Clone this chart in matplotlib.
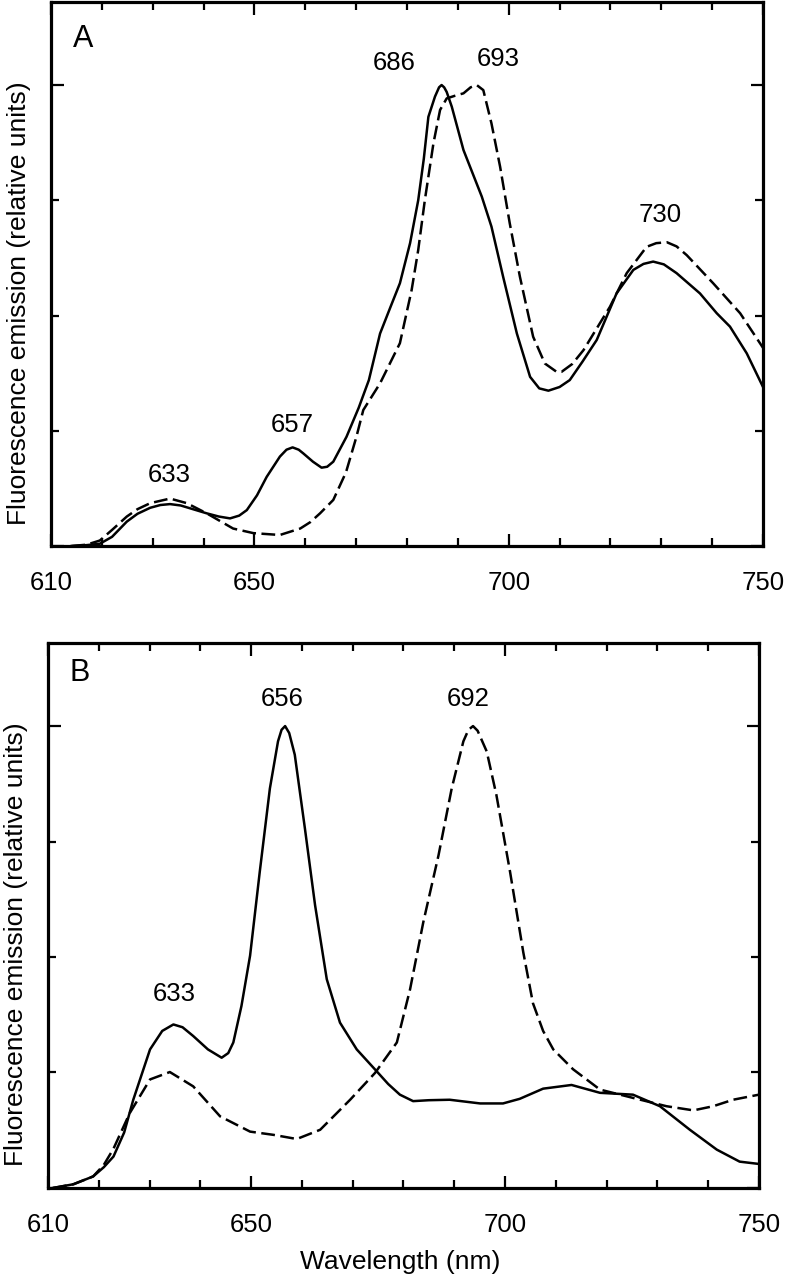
import numpy as np
import matplotlib.pyplot as plt
from matplotlib.ticker import MultipleLocator, FixedLocator

plt.rcParams['font.family'] = ['Liberation Sans', 'DejaVu Sans']

# Panel A, solid trace
wl_a_solid = [614, 617, 619.6, 622, 624.9, 627, 629.5, 631.5, 633.4, 635.5, 637.3, 640.6, 643,
              645.2, 647, 648.5, 650.5, 652.4, 655.0, 656.3, 657.5, 658.7, 659.6, 661.5, 663.2,
              664.3, 665.5, 668.1, 670.5, 672.5, 674.7, 676.8, 678.6, 680.6, 682.2, 683.3,
              684.2, 685.5, 686.3, 686.8, 687.3, 687.8, 688.8, 691.1, 694.7, 696.6, 698.9,
              701.6, 704.2, 706, 707.8, 710, 712.0, 714.5, 717.3, 721.2, 724.5, 726.5, 728.4,
              730.5, 733.0, 737.6, 740.9, 743.5, 746.8, 750]
em_a_solid = [0.0, 0.002, 0.005, 0.02, 0.053, 0.07, 0.083, 0.089, 0.091, 0.088, 0.082, 0.071,
              0.064, 0.06, 0.066, 0.078, 0.11, 0.15, 0.194, 0.209, 0.214, 0.209, 0.201, 0.183,
              0.17, 0.172, 0.183, 0.237, 0.30, 0.36, 0.461, 0.52, 0.57, 0.657, 0.75, 0.84,
              0.931, 0.975, 0.995, 1.0, 0.995, 0.985, 0.953, 0.859, 0.758, 0.693, 0.584,
              0.461, 0.367, 0.342, 0.337, 0.345, 0.36, 0.40, 0.447, 0.548, 0.599, 0.612, 0.617,
              0.611, 0.592, 0.548, 0.505, 0.476, 0.418, 0.345]

# Panel A, dashed trace
wl_a_dash = [614, 617, 619.6, 622, 624.9, 627, 629.5, 633.4, 636.7, 640.6, 645.8, 649.8,
             655.0, 659.0, 661, 662.9, 665.5, 668, 670, 671.4, 674.7, 678.6, 680.9, 682.2,
             683.5, 685.2, 686.5, 687.8, 689.5, 691.1, 692.5, 693.7, 695.0, 696.6, 698.3,
             700.2, 702.2, 704.8, 707.1, 709.4, 710.4, 712.5, 714.7, 719.9, 723.2, 727.1,
             729, 731.1, 733, 735.0, 740.2, 745.5, 750]
em_a_dash = [0.0, 0.003, 0.012, 0.035, 0.064, 0.08, 0.093, 0.103, 0.093, 0.071, 0.038, 0.028,
             0.024, 0.038, 0.052, 0.071, 0.1, 0.16, 0.235, 0.295, 0.353, 0.44, 0.555, 0.642,
             0.75, 0.874, 0.946, 0.971, 0.977, 0.982, 0.995, 1.0, 0.989, 0.917, 0.823,
             0.70, 0.584, 0.454, 0.396, 0.378, 0.378, 0.395, 0.425, 0.519, 0.592, 0.649,
             0.657, 0.659, 0.65, 0.631, 0.57, 0.505, 0.43]

# Panel B, solid trace
wl_b_solid = [611, 615, 618.9, 621, 622.9, 625, 626.8, 630.1, 632.5, 634.7, 636.5, 638.6,
              641.5, 644.2, 645.5, 646.5, 648.1, 649.8, 651.7, 653.7, 655.3, 656.0, 656.7,
              657.5, 658.6, 660.6, 662.6, 664.9, 667.5, 670.8, 674.7, 677, 679.3, 681.9, 685,
              689.1, 695.1, 699.6, 702.9, 707.5, 713.1, 718.7, 725.2, 730.5, 736.4, 741.7,
              746.2, 750]
em_b_solid = [0.0, 0.008, 0.025, 0.045, 0.068, 0.12, 0.191, 0.30, 0.34, 0.354, 0.348, 0.329,
              0.30, 0.282, 0.292, 0.315, 0.394, 0.503, 0.684, 0.865, 0.967, 0.992, 1.0,
              0.985, 0.938, 0.778, 0.612, 0.452, 0.358, 0.30, 0.253, 0.225, 0.202, 0.188, 0.19,
              0.191, 0.183, 0.183, 0.193, 0.215, 0.223, 0.206, 0.202, 0.177, 0.126, 0.083,
              0.057, 0.052]

# Panel B, dashed trace
wl_b_dash = [611, 615, 618.9, 621, 622.9, 626.1, 630.1, 634.0, 638.6, 643.9, 649.8, 654.4,
             659.0, 663.6, 669.5, 674.4, 678.7, 681.3, 683.9, 686.9, 689.5, 691.8, 692.8,
             693.7, 694.6, 696.4, 698.3, 701.0, 703.6, 705.5, 707.5, 709.5, 713.4, 718.7,
             725.2, 731.8, 737.1, 741.0, 744.9, 750]
em_b_dash = [0.0, 0.008, 0.025, 0.05, 0.085, 0.162, 0.235, 0.251, 0.22, 0.155, 0.122, 0.115,
             0.106, 0.126, 0.191, 0.249, 0.315, 0.43, 0.575, 0.72, 0.865, 0.967, 0.992,
             1.0, 0.99, 0.945, 0.851, 0.684, 0.51, 0.40, 0.34, 0.30, 0.257, 0.213,
             0.195, 0.177, 0.168, 0.177, 0.191, 0.202]

# peak labels: text, x, y
peaks_a = [('633', 633.3, 0.139), ('657', 657.5, 0.247), ('686', 677.5, 1.033),
           ('693', 698.0, 1.041), ('730', 729.8, 0.703)]
peaks_b = [('633', 634.8, 0.405), ('656', 656.2, 1.043), ('692', 692.7, 1.043)]

xtick_locs = [610, 650, 700, 750]
xtick_labels = ['610', '650', '700', '750']

fig = plt.figure(figsize=(7.85, 12.8), dpi=100)
ax_a = fig.add_axes([0.0650, 0.5734, 0.907, 0.425])
ax_b = fig.add_axes([0.0611, 0.0719, 0.9057, 0.4258])

dash = (0, (5.5, 2.2))

ax_a.plot(wl_a_solid, em_a_solid, color='black', lw=1.8, solid_joinstyle='round')
ax_a.plot(wl_a_dash, em_a_dash, color='black', lw=1.8, linestyle=dash)
ax_b.plot(wl_b_solid, em_b_solid, color='black', lw=1.8, solid_joinstyle='round')
ax_b.plot(wl_b_dash, em_b_dash, color='black', lw=1.8, linestyle=dash)

for ax, peaks, letter, ly in [(ax_a, peaks_a, 'A', 1.083), (ax_b, peaks_b, 'B', 1.097)]:
    ax.set_xlim(610, 750)
    ax.set_ylim(0, 1.18)
    for s in ax.spines.values():
        s.set_linewidth(2.3)
    ax.xaxis.set_major_locator(FixedLocator(xtick_locs))
    ax.set_xticklabels(xtick_labels, fontsize=18.5)
    ax.xaxis.set_minor_locator(MultipleLocator(10))
    ax.yaxis.set_major_locator(MultipleLocator(1.0))
    ax.yaxis.set_minor_locator(MultipleLocator(0.25))
    ax.set_yticklabels([])
    ax.tick_params(which='both', direction='in', top=True, right=True, width=1.6)
    ax.tick_params(which='major', length=9)
    ax.tick_params(which='minor', length=5.5)
    ax.tick_params(axis='x', which='major', pad=18)
    ax.set_ylabel('Fluorescence emission (relative units)', fontsize=19)
    ax.yaxis.set_label_coords(-0.045, 0.447)
    ax.yaxis.label.set_verticalalignment('center')
    for txt, x, y in peaks:
        ax.text(x, y, txt, fontsize=18.5, ha='center', va='baseline')
    ax.text(616.3, ly, letter, fontsize=22, ha='center', va='baseline')

ax_b.set_xlabel('Wavelength (nm)', fontsize=19)
ax_b.xaxis.set_label_coords(0.495, -0.136)
ax_b.xaxis.label.set_verticalalignment('center')

plt.savefig('out.png', dpi=100)
